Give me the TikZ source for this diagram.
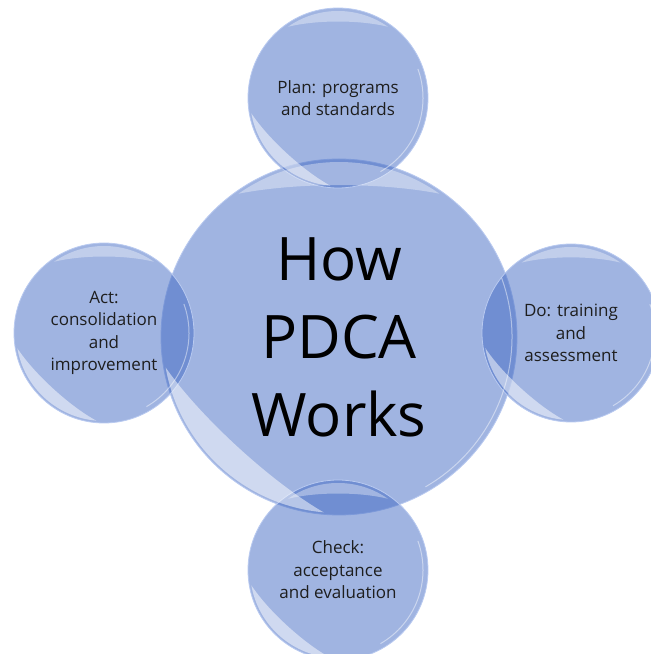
\documentclass[tikz,border=0pt]{standalone}
\usepackage{fontspec}
\setmainfont{Open Sans}
\definecolor{bub}{RGB}{65,105,195}
\definecolor{rim}{RGB}{185,202,240}
\definecolor{txt}{RGB}{30,30,30}
\tikzset{
  bubble/.style={circle, inner sep=0pt, fill=bub, fill opacity=0.5, text opacity=1,
                 draw=rim, line width=0.8pt, align=center, text=txt,
                 font=\fontsize{17}{22.5}\selectfont},
  shine/.style={fill=white, fill opacity=0.5, draw=none},
  shinetop/.style={fill=white, fill opacity=0.35, draw=none},
  rimline/.style={draw=white, draw opacity=0.45, line width=1pt}
}
\newcommand\gloss[2]{%
  \path[shine] (#1.center) ++(190:#2-2) arc (190:265:#2-2)
     .. controls ($(#1.center)+(245:0.9*#2)$) and ($(#1.center)+(210:0.9*#2)$) .. cycle;
  \path[shinetop] (#1.center) ++(55:#2-3) arc (55:125:#2-3)
     .. controls ($(#1.center)+(105:0.9*#2)$) and ($(#1.center)+(75:0.9*#2)$) .. cycle;
  \draw[rimline] (#1.center) ++(-60:#2-5) arc (-60:20:#2-5);
}
\usetikzlibrary{calc}
\begin{document}
\begin{tikzpicture}[x=1pt,y=1pt]
\useasboundingbox (0,0) rectangle (651,654);
\clip (0,0) rectangle (651,654);
\node[bubble, minimum size=356pt, font=\fontsize{60}{78}\selectfont, text=black] (how) at (339,317) {How\\PDCA\\Works};
\node[bubble, minimum size=180pt] (plan) at (338,556) {Plan: programs\\and standards};
\node[bubble, minimum size=180pt] (act) at (104,321) {Act:\\consolidation\\and\\improvement};
\node[bubble, minimum size=178pt] (do) at (571,321) {Do: training\\and\\assessment};
\node[bubble, minimum size=180pt] (check) at (338,84) {Check:\\acceptance\\and evaluation};
\gloss{how}{178}
\gloss{plan}{90}
\gloss{act}{90}
\gloss{do}{89}
\gloss{check}{90}
\end{tikzpicture}
\end{document}
